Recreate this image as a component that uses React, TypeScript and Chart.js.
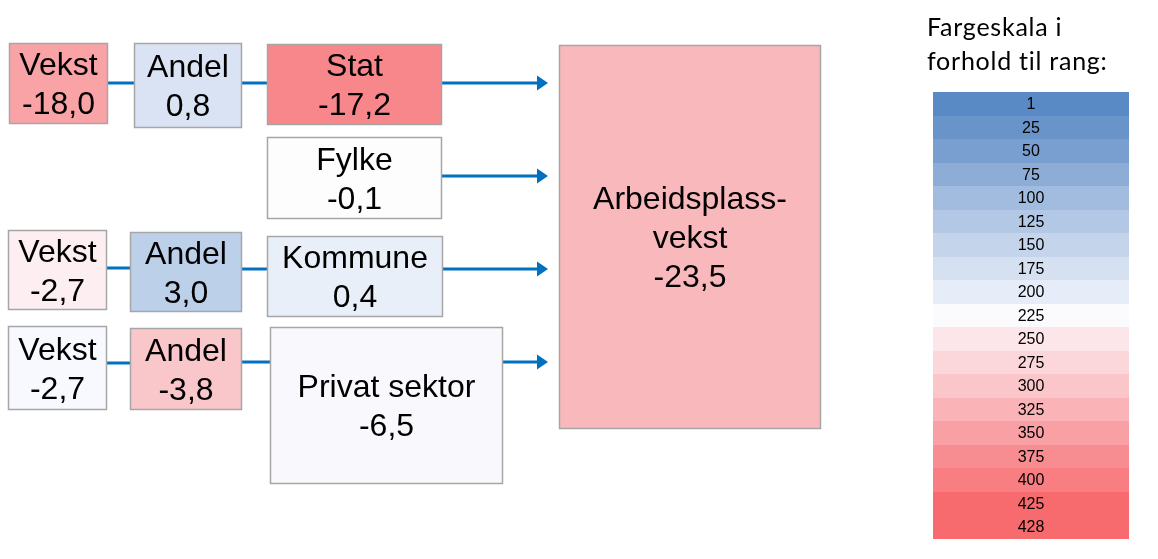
import React, { useEffect, useRef } from "react";
import { Chart, registerables } from "chart.js";

Chart.register(...registerables);

const W = 1158;
const H = 559;

// ---- data ----
const boxTitles = [
  "Vekst", "Andel", "Stat", "Fylke",
  "Vekst", "Andel", "Kommune",
  "Vekst", "Andel", "Privat sektor",
  "Arbeidsplass-\nvekst",
];
const boxValues = [-18.0, 0.8, -17.2, -0.1, -2.7, 3.0, 0.4, -2.7, -3.8, -6.5, -23.5];
const rankTicks = ["1", "25", "50", "75", "100", "125", "150", "175", "200", "225", "250", "275", "300", "325", "350", "375", "400", "425", "428"];
const legendTitle = ["Fargeskala i", "forhold til rang:"];

// ---- layout & style ----
const boxX0 = [9, 134, 267, 267, 8, 130, 267, 8, 130, 270, 559];
const boxX1 = [108, 242, 442, 442, 107, 242, 443, 107, 242, 503, 821];
const boxY0 = [43, 43, 44, 137, 230, 232, 236, 326, 328, 327, 45];
const boxY1 = [124, 128, 125, 219, 310, 312, 317, 410, 410, 484, 429];
const boxFills = [
  "#F9A3A7", "#DAE3F3", "#F7878A", "#FDFDFE",
  "#FCEEF1", "#BDD0E9", "#E9EFF8",
  "#F8F9FE", "#F9C6CA", "#F9F8FC",
  "#F9B8BC",
];
const rankColors = [
  "#5A8AC6", "#6994CA", "#799FD0", "#8DADD6", "#A1BCDF", "#B2C8E5", "#C3D4EB", "#D5E0F1", "#E7EDF8",
  "#FBFBFE", "#FCE6E9", "#FBD6DA", "#FAC6CA", "#FAB3B7", "#F9A0A4", "#F88D91", "#F87E81", "#F76B6E", "#F76A6D",
];
const linkX0 = [108, 242, 442, 442, 107, 242, 443, 107, 242, 503];
const linkX1 = [134, 267, 548, 548, 130, 267, 548, 130, 270, 548];
const linkY = [83, 83, 83, 176, 268, 269, 269, 363, 362, 362];
const linkArrow = [false, false, true, true, false, false, true, false, false, true];

const fmt = (v: number) => v.toFixed(1).replace(".", ",");

const diagramPlugin = {
  id: "diagram",
  afterDatasetsDraw(chart: any) {
    const ctx = chart.ctx as CanvasRenderingContext2D;
    const xs = chart.scales.x;
    const ys = chart.scales.y;
    const px = (v: number) => xs.getPixelForValue(v);
    const py = (v: number) => ys.getPixelForValue(v);
    ctx.save();

    // connectors & arrows
    ctx.strokeStyle = "#0070C0";
    ctx.fillStyle = "#0070C0";
    ctx.lineWidth = 3;
    for (let i = 0; i < linkX0.length; i++) {
      const x0 = px(linkX0[i]);
      const x1 = px(linkX1[i]);
      const y = py(linkY[i]);
      const end = linkArrow[i] ? x1 - 8 : x1;
      ctx.beginPath();
      ctx.moveTo(x0, y);
      ctx.lineTo(end, y);
      ctx.stroke();
      if (linkArrow[i]) {
        ctx.beginPath();
        ctx.moveTo(x1, y);
        ctx.lineTo(x1 - 11, y - 7.5);
        ctx.lineTo(x1 - 11, y + 7.5);
        ctx.closePath();
        ctx.fill();
      }
    }

    // boxes
    for (let i = 0; i < boxTitles.length; i++) {
      const x0 = Math.round(px(boxX0[i]));
      const x1 = Math.round(px(boxX1[i]));
      const y0 = Math.round(py(boxY0[i]));
      const y1 = Math.round(py(boxY1[i]));
      ctx.fillStyle = boxFills[i];
      ctx.fillRect(x0, y0, x1 - x0, y1 - y0);
      ctx.strokeStyle = "#A6A6A6";
      ctx.lineWidth = 1.5;
      ctx.strokeRect(x0 + 0.5, y0 + 0.5, x1 - x0 - 1, y1 - y0 - 1);

      const lines = [...boxTitles[i].split("\n"), fmt(boxValues[i])];
      const cx = (x0 + x1) / 2;
      const cy = (y0 + y1) / 2;
      const lh = 39;
      ctx.fillStyle = "#000000";
      ctx.font = "32px 'Liberation Sans', Arial, sans-serif";
      ctx.textAlign = "center";
      ctx.textBaseline = "alphabetic";
      lines.forEach((t, j) => {
        ctx.fillText(t, cx, cy + (j - (lines.length - 1) / 2) * lh + 11);
      });
    }

    // legend title
    ctx.fillStyle = "#000000";
    ctx.font = "25px Lato, 'Open Sans', sans-serif";
    ctx.textAlign = "left";
    ctx.textBaseline = "alphabetic";
    (ctx as any).letterSpacing = "0.75px";
    ctx.fillText(legendTitle[0], px(927), py(36));
    ctx.fillText(legendTitle[1], px(927), py(70));
    (ctx as any).letterSpacing = "0px";

    // colour scale
    const tx0 = px(933);
    const tx1 = px(1129);
    const ty0 = py(92);
    const ty1 = py(539);
    const rh = (ty1 - ty0) / rankTicks.length;
    ctx.font = "16px 'Liberation Sans', Arial, sans-serif";
    ctx.textAlign = "center";
    ctx.textBaseline = "middle";
    for (let i = 0; i < rankTicks.length; i++) {
      const ya = Math.round(ty0 + i * rh);
      const yb = Math.round(ty0 + (i + 1) * rh);
      ctx.fillStyle = rankColors[i];
      ctx.fillRect(tx0, ya, tx1 - tx0, yb - ya);
      ctx.fillStyle = "#000000";
      ctx.fillText(rankTicks[i], (tx0 + tx1) / 2, (ya + yb) / 2 + 1);
    }
    ctx.restore();
  },
};

export default function App() {
  const ref = useRef<HTMLCanvasElement | null>(null);
  useEffect(() => {
    if (!ref.current) return;
    const chart = new Chart(ref.current, {
      type: "scatter",
      data: {
        datasets: [
          {
            label: "boxes",
            data: boxValues.map((v, i) => ({ x: (boxX0[i] + boxX1[i]) / 2, y: (boxY0[i] + boxY1[i]) / 2 })),
            pointRadius: 0,
          },
        ],
      },
      options: {
        animation: false,
        responsive: false,
        maintainAspectRatio: false,
        layout: { padding: 0 },
        plugins: { legend: { display: false }, tooltip: { enabled: false } },
        scales: {
          x: { type: "linear", min: 0, max: W, display: false },
          y: { type: "linear", min: 0, max: H, reverse: true, display: false },
        },
      },
      plugins: [diagramPlugin],
    });
    return () => chart.destroy();
  }, []);
  return (
    <div style={{ position: "fixed", left: 0, top: 0, width: W, height: H, background: "#ffffff" }}>
      <canvas ref={ref} width={W} height={H} style={{ width: W, height: H, display: "block" }} />
    </div>
  );
}
